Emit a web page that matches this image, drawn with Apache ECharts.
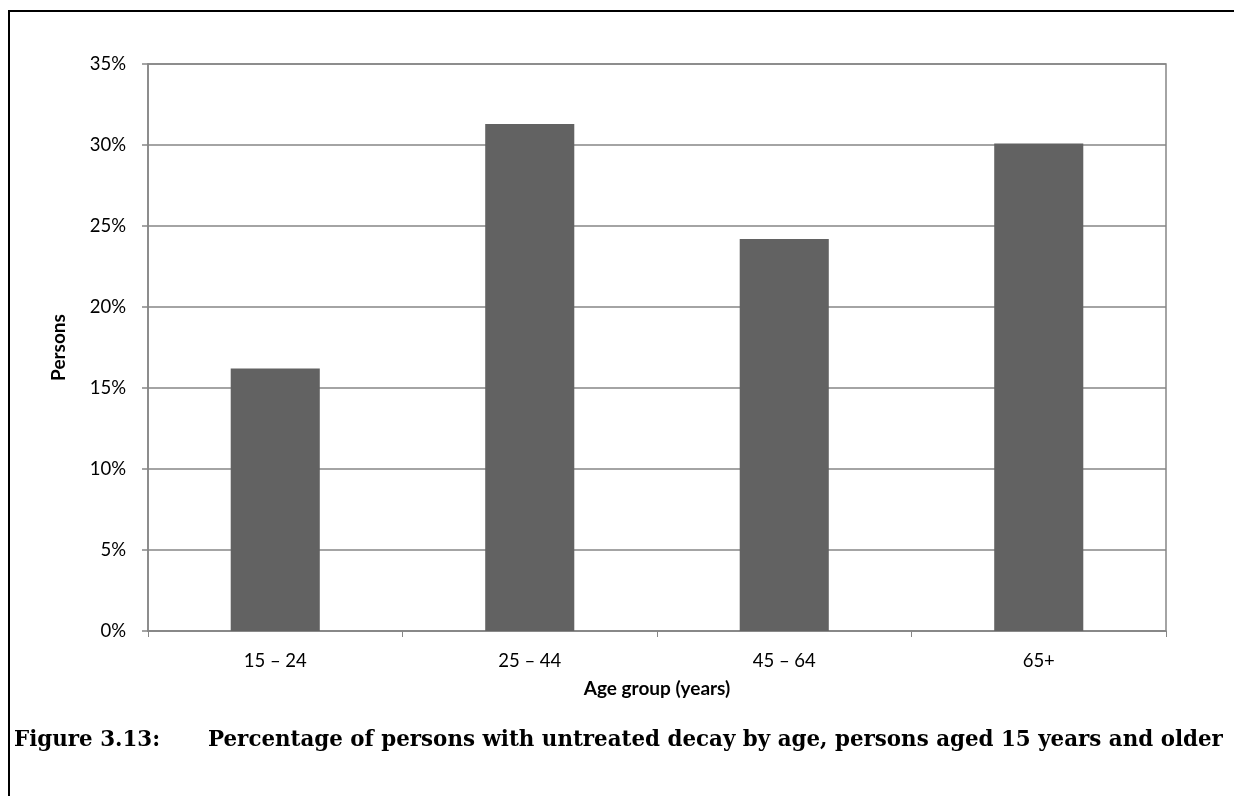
<!DOCTYPE html>
<html>
<head>
<meta charset="utf-8">
<script src="https://cdn.jsdelivr.net/npm/echarts@6/dist/echarts.min.js"></script>
<style>
html,body{margin:0;padding:0;background:#fff;}
#chart{width:1234px;height:796px;}
</style>
</head>
<body>
<div id="chart"></div>
<script>
const categories = ['15 \u2013 24', '25 \u2013 44', '45 \u2013 64', '65+'];
const values = [16.2, 31.3, 24.2, 30.1];
const yTicks = [0, 5, 10, 15, 20, 25, 30, 35];

const chart = echarts.init(document.getElementById('chart'));
const gray = '#868686';
chart.setOption({
  animation: false,
  grid: { left: 148, right: 68, top: 64, bottom: 165, show: true, borderColor: gray, borderWidth: 1.5 },
  xAxis: {
    type: 'category',
    data: categories,
    name: 'Age group (years)',
    nameLocation: 'middle',
    nameGap: 48,
    nameTextStyle: { fontFamily: 'Lato', fontWeight: 'bold', fontSize: 19, color: '#000' },
    axisLine: { lineStyle: { color: gray, width: 1.5 } },
    axisTick: { show: true, length: 6, alignWithLabel: false, lineStyle: { color: gray, width: 1 } },
    axisLabel: { fontFamily: 'Lato', fontSize: 18.5, color: '#000', margin: 21 }
  },
  yAxis: {
    type: 'value',
    min: yTicks[0],
    max: yTicks[yTicks.length - 1],
    interval: 5,
    name: 'Persons',
    nameLocation: 'middle',
    nameGap: 80,
    nameRotate: 90,
    nameTextStyle: { fontFamily: 'Lato', fontWeight: 'bold', fontSize: 19, color: '#000' },
    axisLine: { show: true, lineStyle: { color: gray, width: 1.5 } },
    axisTick: { show: true, length: 6, lineStyle: { color: gray, width: 1.5 } },
    splitLine: { lineStyle: { color: gray, width: 1.5 } },
    axisLabel: { fontFamily: 'Lato', fontSize: 18.5, color: '#000', margin: 22, formatter: v => v + '%' }
  },
  series: [{
    type: 'bar',
    data: values,
    barWidth: '35%',
    itemStyle: { color: '#626262' }
  }],
  graphic: [
    { type: 'line', shape: { x1: 8, y1: 11, x2: 1234, y2: 11 }, style: { stroke: '#000', lineWidth: 2 } },
    { type: 'line', shape: { x1: 9, y1: 10, x2: 9, y2: 796 }, style: { stroke: '#000', lineWidth: 2 } },
    { type: 'text', left: 14, top: 730, style: { text: 'Figure 3.13:', font: 'bold 21.4px "DejaVu Serif"', fill: '#000' } },
    { type: 'text', left: 208, top: 730, style: { text: 'Percentage of persons with untreated decay by age, persons aged 15 years and older', font: 'bold 21.4px "DejaVu Serif"', fill: '#000' } }
  ]
});
</script>
</body>
</html>
